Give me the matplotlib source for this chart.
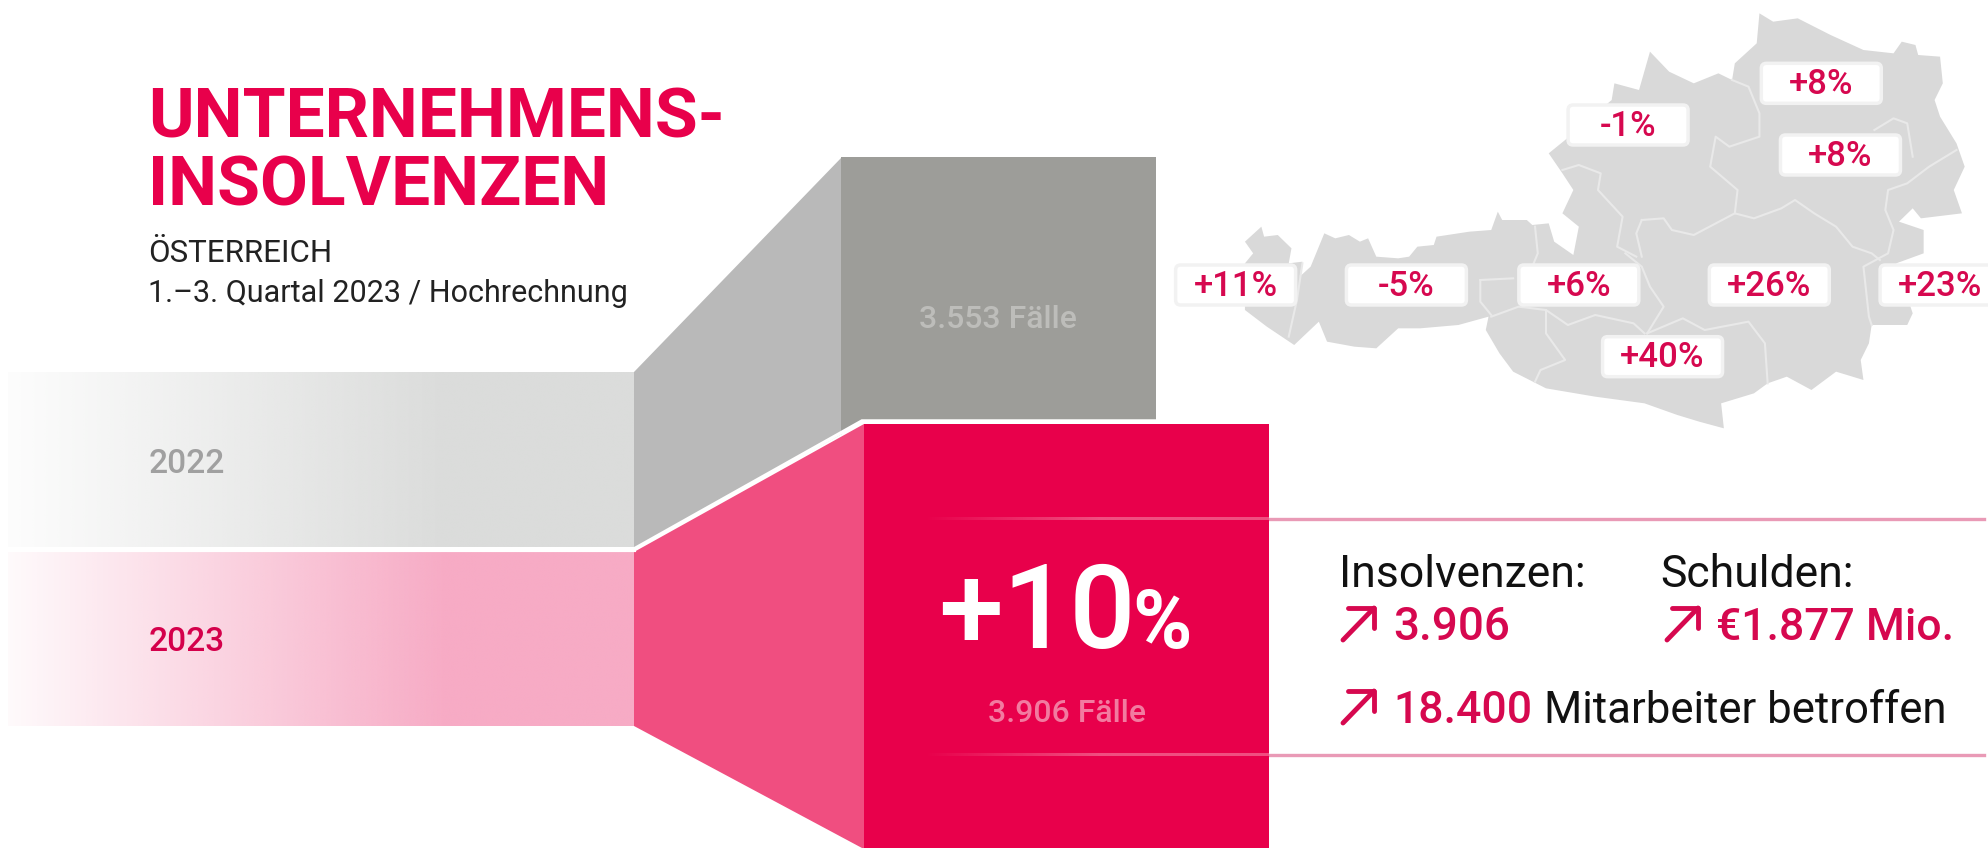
import numpy as np
import matplotlib
matplotlib.use("Agg")
import matplotlib.pyplot as plt
from matplotlib.patches import Polygon, FancyBboxPatch, Rectangle
from matplotlib.colors import to_rgb

plt.rcParams["font.family"] = ["Roboto", "DejaVu Sans"]

RED = "#E8004B"
PINK = "#F04E80"
LIGHT_PINK = "#F7ABC5"
TEXT_RED = "#D6084F"

years = ["2022", "2023"]
cases = [3553, 3906]
case_labels = ["3.553 Fälle", "3.906 Fälle"]
region_labels = ["+8%", "-1%", "+8%", "+11%", "-5%", "+6%", "+26%", "+23%", "+40%"]
region_x = [1263, 910, 1298, 193, 505, 820, 1168, 1480, 973]
region_y = [250, 375, 465, 855, 855, 855, 855, 855, 1070]

outline = [(240,680),(245,710),(270,705),(295,745),(290,790),(315,785),(310,830),(330,800),(355,700),(375,715),
           (400,705),(420,725),(435,715),(450,770),(490,775),(510,770),(525,740),(555,735),(560,710),(620,695),
           (660,690),(672,635),(680,660),(725,660),(735,675),(765,670),(775,725),(810,765),(820,680),(790,640),
           (810,570),(790,520),(765,460),(795,420),(880,300),(885,250),(930,270),(950,155),(985,215),(1030,250),
           (1075,220),(1100,240),(1105,190),(1145,130),(1150,40),(1175,65),(1220,55),(1280,105),(1340,150),(1395,160),
           (1410,125),(1435,135),(1440,165),(1480,170),(1485,250),(1470,300),(1480,350),(1510,430),(1525,500),(1505,570),
           (1520,640),(1445,655),(1430,625),(1405,665),(1450,690),(1450,760),(1400,790),(1430,940),(1420,975),(1355,975),
           (1350,1030),(1335,1080),(1340,1140),(1290,1115),(1245,1170),(1200,1130),(1165,1150),(1140,1180),(1080,1210),(1085,1285),
           (1040,1265),(1000,1245),(940,1210),(850,1190),(760,1165),(700,1115),(675,1060),(650,990),(655,950),(600,975),
           (530,985),(490,985),(450,1045),(410,1040),(360,1025),(345,965),(300,1035),(250,980),(210,930),(210,790),
           (225,760),(210,725)]
borders = [
    [(315,790),(305,900),(290,1010)],
    [(640,840),(700,835)],
    [(640,840),(640,905),(660,945)],
    [(660,950),(710,920),(760,930),(800,975),(850,945),(920,970),(940,1000)],
    [(740,680),(745,760),(735,800)],
    [(905,760),(935,800),(950,860),(975,920),(945,1000)],
    [(790,510),(820,495),(860,520),(855,570),(900,650),(890,740),(925,770)],
    [(935,660),(925,700),(935,770)],
    [(935,660),(975,655),(990,690),(1030,705),(1105,640),(1140,655),(1190,625),(1215,600),(1250,640),(1290,680),(1320,740),(1355,760),(1370,780)],
    [(1105,640),(1110,570),(1060,500),(1070,410),(1095,440),(1150,410),(1150,340),(1130,260),(1100,240)],
    [(1510,450),(1460,500),(1420,550),(1385,570),(1380,630),(1395,690),(1385,760),(1340,800),(1350,950),(1355,975)],
    [(945,1000),(1010,955),(1050,990),(1130,965),(1160,1030),(1165,1150)],
    [(760,930),(760,1000),(795,1080),(750,1110),(740,1145)],
    [(1360,390),(1395,355),(1420,370),(1430,470)],
]


def map_xy(pts):
    pts = np.array(pts, dtype=float)
    return np.column_stack([1130 + pts[:, 0] / 1.827, pts[:, 1] / 3])


def fade(ax, x0, x1, y0, y1, color, ramp, start=0.0, z=1):
    # horizontal gradient, transparent on the left
    img = np.zeros((2, 600, 4))
    img[..., :3] = to_rgb(color)
    t = np.linspace(0, 1, 600)
    img[..., 3] = start + (1 - start) * np.clip(t / ramp, 0, 1)
    ax.imshow(img, extent=(x0, x1, y1, y0), aspect="auto", zorder=z, interpolation="bilinear")


fig = plt.figure(figsize=(19.88, 8.48), dpi=100, facecolor="white")
ax = fig.add_axes([0, 0, 1, 1])

# bands
fade(ax, 8, 634, 372, 547, "#DBDCDB", 0.7, start=0.06)
fade(ax, 8, 634, 552, 726, LIGHT_PINK, 0.7, start=0.06)

# funnel
ax.add_patch(Polygon([(634, 372), (842, 157), (842, 434), (634, 548)], fc="#B9B9B9", ec="none", zorder=2))
ax.add_patch(Polygon([(841, 157), (1156, 157), (1156, 421), (862, 421), (841, 434)], fc="#9D9D99", ec="none", zorder=2))
ax.add_patch(Polygon([(634, 552), (864, 424), (864, 848), (862, 848), (634, 726)], fc=PINK, ec="none", zorder=3))
ax.plot([634, 862, 1269], [549, 421, 421], color="white", lw=2.5, zorder=4, solid_joinstyle="miter")
ax.plot([8, 634], [549.5, 549.5], color="white", lw=3, zorder=4)
ax.add_patch(Rectangle((864, 424), 405, 424, fc=RED, ec="none", zorder=3))

# rules
for y in [519, 755]:
    fade(ax, 925, 1269, y - 1.5, y + 1.5, PINK, 0.5, z=5)
    ax.plot([1269, 1984], [y, y], color="#E99AB6", lw=2.4, zorder=2)

# map
ax.add_patch(Polygon(map_xy(outline), fc="#D9D9D9", ec="none", zorder=2))
for b in borders:
    xy = map_xy(b)
    ax.plot(xy[:, 0], xy[:, 1], color="#E9E9E9", lw=1.5, zorder=3)

for lab, zx, zy in zip(region_labels, region_x, region_y):
    cx, cy = map_xy([(zx, zy)])[0]
    ax.add_patch(FancyBboxPatch((cx - 60, cy - 20), 120, 40, boxstyle="round,pad=0,rounding_size=5",
                                fc="white", ec="#F2F2F2", lw=2.5, zorder=4))
    ax.text(cx, cy + 1, lab, color=TEXT_RED, fontsize=25, fontweight="medium", ha="center", va="center", zorder=5)

# title
ax.text(148, 138, "UNTERNEHMENS-", color=RED, fontsize=50, fontweight="bold", va="baseline")
ax.text(148, 206, "INSOLVENZEN", color=RED, fontsize=50, fontweight="bold", va="baseline")
ax.text(148, 262, "ÖSTERREICH", color="#222222", fontsize=22.5, va="baseline")
ax.text(148, 302, "1.–3. Quartal 2023 / Hochrechnung", color="#222222", fontsize=22, va="baseline")

# block labels
ax.text(149, 473, years[0], color="#A0A0A0", fontsize=24, fontweight="medium", va="baseline")
ax.text(149, 651, years[1], color="#D4004B", fontsize=24, fontweight="medium", va="baseline")
ax.text(998, 320, case_labels[0], color="#BDBDBA", fontsize=23, fontweight="medium", ha="center", va="center", zorder=5)
ax.text(1067, 713, case_labels[1], color="#F27BA0", fontsize=23, fontweight="medium", ha="center", va="center", zorder=5)
ax.text(938, 648, "+10", color="white", fontsize=84, fontweight="medium", va="baseline", zorder=5)
ax.text(1132, 648, "%", color="white", fontsize=58, fontweight="bold", va="baseline", zorder=5)

# key figures
ax.text(1339, 587, "Insolvenzen:", color="#111111", fontsize=32, va="baseline")
ax.text(1660, 587, "Schulden:", color="#111111", fontsize=32, va="baseline")
ax.text(1393, 640, "3.906", color=TEXT_RED, fontsize=33, fontweight="medium", va="baseline")
ax.text(1716, 640, "€1.877 Mio.", color=TEXT_RED, fontsize=32, fontweight="medium", va="baseline")
ax.text(1393, 723, "18.400", color=TEXT_RED, fontsize=32, fontweight="medium", va="baseline")
ax.text(1544, 723, "Mitarbeiter betroffen", color="#111111", fontsize=31.5, va="baseline")

for x0, y0 in [(1343, 640), (1667, 640), (1343, 723)]:
    ax.plot([x0, x0 + 31], [y0, y0 - 32], color=TEXT_RED, lw=3.5, solid_capstyle="round")
    ax.plot([x0 + 5, x0 + 31, x0 + 31], [y0 - 32, y0 - 32, y0 - 12], color=TEXT_RED, lw=3.5, solid_capstyle="round")

ax.set_xlim(0, 1988)
ax.set_ylim(848, 0)
ax.axis("off")
fig.savefig("out.png", dpi=100)
